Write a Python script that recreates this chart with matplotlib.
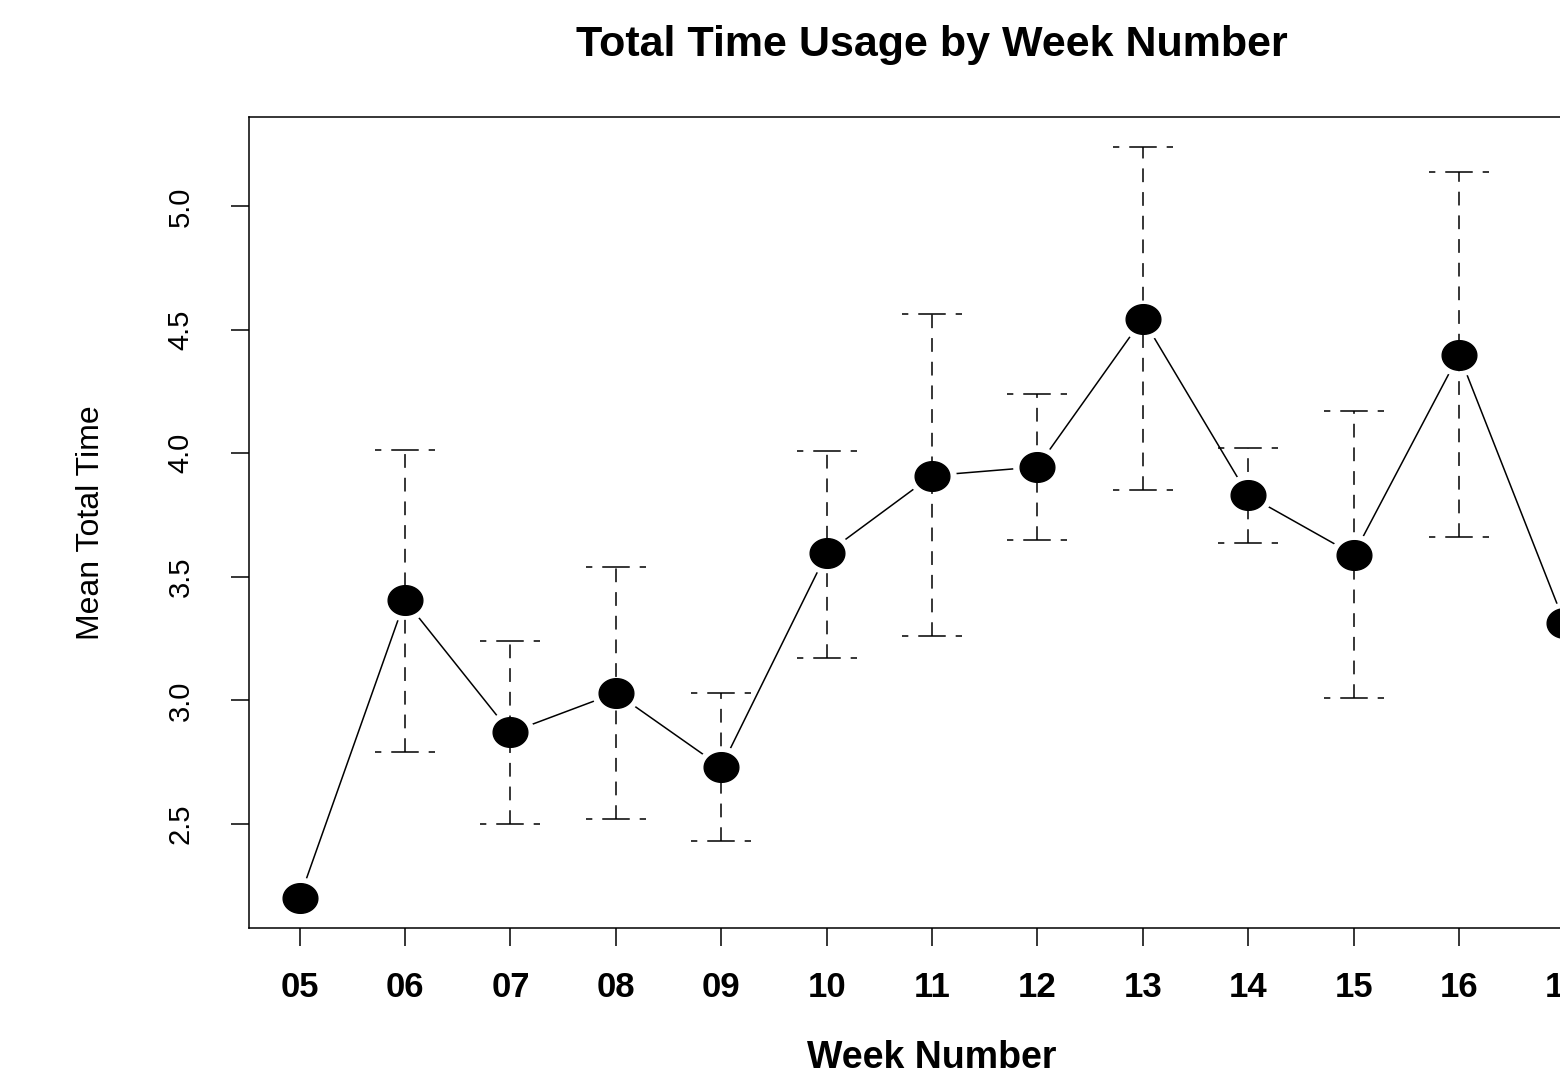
import numpy as np
import matplotlib
matplotlib.use("Agg")
import matplotlib.pyplot as plt
from matplotlib.path import Path

plt.rcParams["font.family"] = ["Liberation Sans", "DejaVu Sans"]

weeks = ["05", "06", "07", "08", "09", "10", "11", "12", "13", "14", "15", "16", "17"]
mean_time = [2.20, 3.405, 2.87, 3.03, 2.73, 3.595, 3.91, 3.945, 4.545, 3.83, 3.59, 4.40, 3.315]
upper = [np.nan, 4.015, 3.24, 3.54, 3.03, 4.01, 4.565, 4.24, 5.24, 4.02, 4.17, 5.14, np.nan]
lower = [np.nan, 2.79, 2.50, 2.52, 2.43, 3.17, 3.26, 3.65, 3.85, 3.635, 3.01, 3.66, np.nan]

x = np.arange(1, len(weeks) + 1)
mean_time = np.array(mean_time)
upper = np.array(upper)
lower = np.array(lower)

fig = plt.figure(figsize=(15.6, 10.88), dpi=100)
W, H = 1560, 1088
# plot box: 249..1615 px horizontally, 117..928 px vertically
ax = fig.add_axes([249 / W, 1 - 928 / H, (1615 - 249) / W, (928 - 117) / H])

# R-style 4% padding of the data range
xr = x.max() - x.min()
ax.set_xlim(x.min() - 0.04 * xr, x.max() + 0.04 * xr)
ymin = np.nanmin(np.concatenate([mean_time, lower]))
ymax = np.nanmax(np.concatenate([mean_time, upper]))
yr = ymax - ymin
ax.set_ylim(ymin - 0.04 * yr, ymax + 0.04 * yr)

# elliptical point marker
t = np.linspace(0, 2 * np.pi, 60)
ell = Path(np.column_stack([1.17 * np.cos(t), np.sin(t)]), closed=True)

lw = 1.1
dash = (0, (9, 6.5))

# type="b": line with gaps around the points
ax.plot(x, mean_time, color="black", lw=lw, zorder=1)
ax.plot(x, mean_time, ls="none", marker=ell, ms=34, mfc="white", mec="white", zorder=2)

# dashed error bars with dashed caps drawn outward from the centre
ok = ~np.isnan(upper)
cap = 0.285
ax.vlines(x[ok], lower[ok], upper[ok], colors="black", linestyles=[dash], lw=lw, zorder=3)
for end in (upper, lower):
    ax.hlines(end[ok], x[ok], x[ok] - cap, colors="black", linestyles=[dash], lw=lw, zorder=3)
    ax.hlines(end[ok], x[ok], x[ok] + cap, colors="black", linestyles=[dash], lw=lw, zorder=3)

ax.plot(x, mean_time, ls="none", marker=ell, ms=25, mfc="black", mec="black", zorder=4)

ax.set_xticks(x)
ax.set_xticklabels(weeks, fontsize=25, fontweight="bold")
ax.set_yticks([2.5, 3.0, 3.5, 4.0, 4.5, 5.0])
ax.set_yticklabels(["2.5", "3.0", "3.5", "4.0", "4.5", "5.0"], fontsize=21,
                   rotation=90, va="center")
ax.tick_params(axis="x", length=13, width=lw, pad=18)
ax.tick_params(axis="y", length=13, width=lw, pad=26)
for s in ax.spines.values():
    s.set_linewidth(lw)

ax.set_title("Total Time Usage by Week Number", fontsize=31, fontweight="bold", pad=44)
ax.set_xlabel("Week Number", fontsize=27, fontweight="bold", labelpad=26)
ax.set_ylabel("Mean Total Time", fontsize=23, labelpad=44)

fig.savefig("out.png", dpi=100)
